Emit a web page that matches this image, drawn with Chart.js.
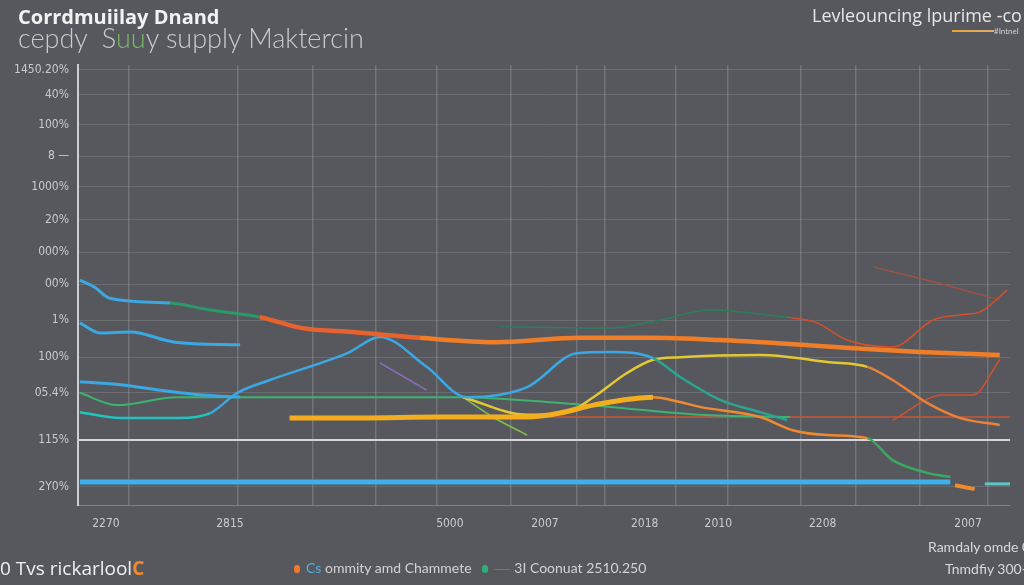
<!DOCTYPE html>
<html>
<head>
<meta charset="utf-8">
<script src="https://cdn.jsdelivr.net/npm/chart.js@4.4.1/dist/chart.umd.min.js"></script>
<style>
  html, body { margin: 0; padding: 0; background: #57585d; }
  #wrap { position: relative; width: 1024px; height: 585px; overflow: hidden; background: #57585d; font-family: "Lato", "Open Sans", sans-serif; }
  canvas { position: absolute; left: 0; top: 0; }
  .t { position: absolute; white-space: nowrap; }
  #title1 { left: 18px; top: 3px; font-size: 20px; font-weight: bold; color: #f2f2f4; font-family: "Open Sans", sans-serif; letter-spacing: 0px; }
  #title2 { left: 18px; top: 21px; font-size: 27px; font-weight: 300; color: #c9cacf; }
  #title2 .g { color: #79b56a; }
  #topright { left: 812px; top: 3px; font-size: 18px; color: #e6e6ea; font-family: "Open Sans", sans-serif; }
  #toprightLine { left: 952px; top: 30px; width: 42px; height: 2px; background: linear-gradient(90deg, #f0a030, #d8b070); }
  #toprightSmall { left: 994px; top: 26px; font-size: 8px; color: #d0d0d4; }
  #brand { left: 0px; top: 555px; font-size: 19px; color: #f0f0f2; font-family: "Open Sans", sans-serif; }
  #brand .c { color: #f08a2a; font-weight: bold; }
  #legend { left: 294px; top: 559px; font-size: 14px; color: #d2d2d6; }
  .dot { display: inline-block; width: 6px; height: 8px; border-radius: 3px; vertical-align: middle; margin-right: 6px; }
  .dash { display: inline-block; width: 16px; height: 1px; background: #d0503a; vertical-align: middle; margin-right: 4px; }
  #foot1 { left: 928px; top: 538px; font-size: 14px; color: #d8d8dc; }
  #foot2 { left: 945px; top: 560px; font-size: 14px; color: #d8d8dc; }
</style>
</head>
<body>
<div id="wrap">
  <canvas id="chart" width="1024" height="585"></canvas>
  <div class="t" id="title1">Corrdmuiilay Dnand</div>
  <div class="t" id="title2">cepdy &nbsp;S<span class="g">uu</span>y supply Maktercin</div>
  <div class="t" id="topright">Levleouncing lpurime -co</div>
  <div class="t" id="toprightLine"></div>
  <div class="t" id="toprightSmall">#Intnel</div>
  <div class="t" id="brand">0 Tvs rickarlool<span class="c">C</span></div>
  <div class="t" id="legend"><span class="dot" style="background:#f07a2a"></span><span style="color:#4fb0e0">Cs</span> ommity amd Chammete &nbsp;&nbsp;<span class="dot" style="background:#2ab07a"></span><span class="dash"></span>3I Coonuat 2510.250</div>
  <div class="t" id="foot1">Ramdaly omde 0/0</div>
  <div class="t" id="foot2">Tnmdfiy 300-28</div>
</div>
<script>
// ---------- axis ticks ----------
const xLabelPos = [3.0, 16.3, 39.9, 50.1, 60.8, 68.7, 79.9, 95.5];
const xLabelText = ["2270", "2815", "5000", "2007", "2018", "2010", "2208", "2007"];
const xGridPos = [5.4, 17.1, 25.2, 31.9, 38.5, 46.4, 53.5, 56.5, 64.1, 69.7, 77.5, 83.4, 90.3, 97.6];

const yTickPos = [4.1, 14.8, 25.5, 33.6, 42, 50.2, 57.5, 64.8, 72.3, 79.3, 86.4, 93.2, 98.9];
const yTickText = ["2Y0%", "115%", "05.4%", "100%", "1%", "00%", "000%", "20%", "1000%", "8 \u2014", "100%", "40%", "1450.20%"];
const yBaseline = 14.8;

// ---------- series ----------
const mainX = [0.2, 1.8, 3.4, 9.9, 14.2, 19.5, 24.1, 29.5, 36.7, 44.7, 53.9, 61.4, 68.9, 76.4, 82.8, 90.3, 98.9];
const mainY = [51.1, 49.5, 47.0, 45.9, 44.3, 42.7, 40.2, 39.3, 38.0, 37.0, 38.0, 38.0, 37.5, 36.6, 35.7, 34.8, 34.1];

const blueShortX = [0.2, 2.4, 5.6, 10.4, 17.4];
const blueShortY = [41.4, 39.1, 39.3, 37.0, 36.4];

const blueLowX = [0.2, 3.8, 8.8, 13.4, 17.4];
const blueLowY = [28.0, 27.5, 26.1, 25.0, 24.5];

const waveX = [0.2, 4.5, 10.9, 14.2, 17.1, 20.6, 28.9, 32.4, 37.4, 41.7, 48.2, 53.5, 57.1, 61.7, 64.6, 68.9, 73.2, 76.1];
const waveY = [21.1, 19.8, 19.8, 20.9, 25.5, 28.4, 34.5, 38.2, 31.4, 24.5, 26.8, 34.5, 34.8, 33.4, 29.1, 23.9, 21.1, 19.3];

const baseX = [0.2, 93.6];
const baseY = [5.2, 5.2];

const amberX = [22.7, 30.3, 38.8, 48.2, 51.7, 55.3, 61.7, 64.6, 66.7, 73.2, 76.7, 80.4, 84.7, 87.4, 91.1, 93.6];
const amberY = [19.8, 19.8, 20.0, 20.0, 20.9, 22.7, 24.5, 23.4, 22.3, 20.0, 17.0, 15.9, 15.2, 10.2, 7.3, 6.4];

const yellowX = [41.3, 48.2, 52.5, 55.3, 58.9, 61.7, 64.6, 73.2, 80.4, 84.7, 87.4, 91.1, 94.6, 98.9];
const yellowY = [24.5, 20.5, 21.1, 24.5, 30.0, 33.0, 33.6, 34.1, 32.5, 31.4, 28.4, 23.2, 19.8, 18.2];

const greenFlatX = [0.2, 4.2, 10.6, 17.4, 30.3, 41.0, 51.7, 57.1, 66.7, 76.4];
const greenFlatY = [25.5, 22.7, 24.5, 24.5, 24.5, 24.5, 23.2, 22.3, 20.5, 20.0];

const greenDropX = [41.3, 44.5, 48.2];
const greenDropY = [24.5, 20.0, 15.9];

const purpleX = [32.4, 37.4];
const purpleY = [32.3, 26.1];

const darkGreenX = [45.3, 57.1, 62.4, 67.8, 76.1];
const darkGreenY = [40.5, 40.2, 42.0, 44.3, 42.7];

const redRiseX = [76.1, 79.3, 82.5, 87.4, 91.7, 94.6, 96.8, 99.7];
const redRiseY = [42.7, 41.4, 37.5, 35.9, 42.0, 43.2, 43.9, 48.9];

const redTopX = [85.3, 91.1, 98.9];
const redTopY = [54.1, 51.1, 46.6];

const redStepX = [87.4, 92.8, 96.0, 98.9];
const redStepY = [19.3, 25.0, 25.0, 33.0];

const redFlatX = [43.1, 100];
const redFlatY = [20.0, 20.0];

const tailOrangeX = [94.1, 96.2];
const tailOrangeY = [4.5, 3.6];
const tailTealX = [97.3, 100];
const tailTealY = [4.8, 4.8];

// ---------- helpers ----------
const pts = (xs, ys) => xs.map((x, i) => ({ x: x, y: ys[i] }));

// colour by segment index: breaks = [[fromIndex, colour], ...]
function segColor(breaks) {
  return ctx => {
    let c = breaks[0][1];
    breaks.forEach(b => { if (ctx.p0DataIndex >= b[0]) c = b[1]; });
    return c;
  };
}

function line(xs, ys, color, width, extra) {
  return Object.assign({
    data: pts(xs, ys),
    borderColor: color,
    borderWidth: width,
    pointRadius: 0,
    tension: 0.4,
    cubicInterpolationMode: "monotone",
    fill: false
  }, extra || {});
}

// ---------- chart ----------
const ctx = document.getElementById("chart");

new Chart(ctx, {
  type: "line",
  data: {
    datasets: [
      line(baseX, baseY, "#3fb0ea", 5, { tension: 0 }),
      line(mainX, mainY, "#f07a2a", 4, {
        segment: {
          borderColor: segColor([[0, "#3aa8e2"], [3, "#2a9a6a"], [5, "#e8622e"], [8, "#f07e28"]]),
          borderWidth: c => (c.p0DataIndex < 5 ? 3 : 4.5)
        }
      }),
      line(blueShortX, blueShortY, "#3aa8e2", 3),
      line(blueLowX, blueLowY, "#3aa8e2", 3),
      line(waveX, waveY, "#3aa8e2", 2.5, {
        segment: { borderColor: segColor([[0, "#22c4c0"], [3, "#3aa8e2"], [13, "#2aa590"]]) }
      }),
      line(amberX, amberY, "#f5a623", 4, {
        segment: {
          borderColor: segColor([[0, "#f5ad20"], [6, "#ee8a30"], [12, "#3aa860"]]),
          borderWidth: c => (c.p0DataIndex < 6 ? 5 : 2.5)
        }
      }),
      line(yellowX, yellowY, "#e2c835", 2.5, {
        segment: { borderColor: segColor([[0, "#e2c835"], [9, "#e8823a"]]) }
      }),
      line(greenFlatX, greenFlatY, "#3cb371", 2),
      line(greenDropX, greenDropY, "#7cc04a", 1.5),
      line(purpleX, purpleY, "#8a6fc0", 1.5),
      line(darkGreenX, darkGreenY, "#2e7d5b", 1.5),
      line(redRiseX, redRiseY, "#d4502a", 1.5, { tension: 0.2 }),
      line(redTopX, redTopY, "#a8503e", 1.2),
      line(redStepX, redStepY, "#d4502a", 1.5, { tension: 0 }),
      line(redFlatX, redFlatY, "#c8553a", 1.5, { tension: 0 }),
      line(tailOrangeX, tailOrangeY, "#f08a2a", 4, { tension: 0 }),
      line(tailTealX, tailTealY, "#5ec8c8", 3, { tension: 0 })
    ]
  },
  options: {
    responsive: false,
    animation: false,
    layout: { padding: { top: 65, right: 14, left: 0, bottom: 0 } },
    plugins: {
      legend: { display: false },
      tooltip: { enabled: false }
    },
    scales: {
      x: {
        type: "linear",
        min: 0,
        max: 100,
        afterFit: s => { s.height = 80; },
        afterBuildTicks: s => {
          s.ticks = xGridPos.concat(xLabelPos).sort((a, b) => a - b).map(v => ({ value: v }));
        },
        ticks: {
          autoSkip: false,
          maxRotation: 0,
          padding: 12,
          color: "#c9cacf",
          font: { family: "Liberation Sans Narrow, DejaVu Sans Condensed, sans-serif", size: 12 },
          callback: v => {
            const i = xLabelPos.findIndex(p => Math.abs(p - v) < 0.01);
            return i >= 0 ? xLabelText[i] : "";
          }
        },
        grid: {
          drawTicks: false,
          color: c => (xLabelPos.some(p => c.tick && Math.abs(p - c.tick.value) < 0.01) ? "rgba(0,0,0,0)" : "rgba(255,255,255,0.16)"),
          lineWidth: 1.5
        },
        border: { color: "rgba(255,255,255,0.25)", width: 1 }
      },
      y: {
        type: "linear",
        min: 0,
        max: 100,
        afterFit: s => { s.width = 78; },
        afterBuildTicks: s => {
          s.ticks = yTickPos.map(v => ({ value: v }));
        },
        ticks: {
          autoSkip: false,
          padding: 9,
          color: "#c9cacf",
          font: { family: "Liberation Sans Narrow, DejaVu Sans Condensed, sans-serif", size: 12 },
          callback: v => {
            const i = yTickPos.findIndex(p => Math.abs(p - v) < 0.01);
            return i >= 0 ? yTickText[i] : "";
          }
        },
        grid: {
          drawTicks: false,
          color: c => (c.tick && Math.abs(c.tick.value - yBaseline) < 0.01 ? "rgba(235,235,240,0.85)" : "rgba(255,255,255,0.12)"),
          lineWidth: c => (c.tick && Math.abs(c.tick.value - yBaseline) < 0.01 ? 2 : 1)
        },
        border: { color: "rgba(235,235,240,0.8)", width: 2 }
      }
    }
  }
});
</script>
</body>
</html>
